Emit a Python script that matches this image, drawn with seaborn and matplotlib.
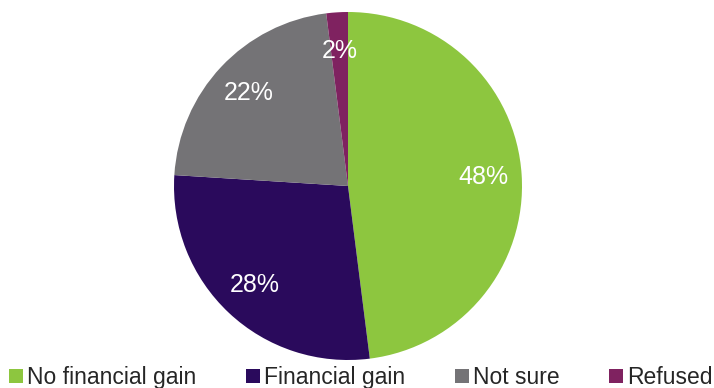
import matplotlib
matplotlib.use("Agg")
import matplotlib.pyplot as plt
from matplotlib.lines import Line2D
import seaborn as sns

categories = ["No financial gain", "Financial gain", "Not sure", "Refused"]
shares = [48, 28, 22, 2]
colors = ["#8DC63F", "#2A0A5C", "#747376", "#7F2260"]

sns.set_theme(style="white")
plt.rcParams["font.family"] = ["Liberation Sans", "DejaVu Sans"]

W, H = 714, 388
fig = plt.figure(figsize=(W / 100, H / 100), dpi=100)
fig.patch.set_facecolor("white")

cx, cy, r = 348, 186, 174
ax = fig.add_axes([(cx - r) / W, (H - cy - r) / H, 2 * r / W, 2 * r / H])

wedges, texts, autotexts = ax.pie(
    shares,
    colors=colors,
    startangle=90,
    counterclock=False,
    autopct=lambda p: f"{p:.0f}%",
    pctdistance=0.78,
    wedgeprops=dict(linewidth=0),
    textprops=dict(color="white", fontsize=18),
)
ax.set_xlim(-1, 1)
ax.set_ylim(-1, 1)
ax.set_aspect("equal")
ax.axis("off")

handles = [
    Line2D([], [], linestyle="none", marker="s", markersize=10,
           markerfacecolor=c, markeredgewidth=0)
    for c in colors
]
fig.legend(
    handles, categories,
    loc="center left",
    bbox_to_anchor=(8 / W, 10.5 / H),
    ncol=4,
    frameon=False,
    fontsize=16.5,
    handlelength=0.7,
    handletextpad=0.15,
    columnspacing=2.1,
    borderpad=0,
    borderaxespad=0,
)

fig.savefig("out.png", dpi=100, facecolor="white")
